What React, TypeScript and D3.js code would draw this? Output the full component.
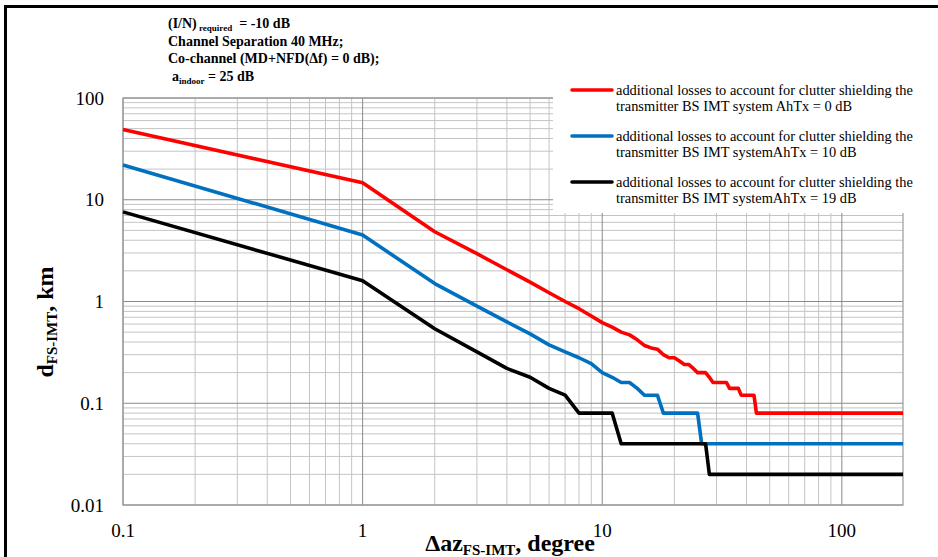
import React from 'react';
import * as d3 from 'd3';

// Azimuth offsets (degrees) at which the curves are sampled
const angles = [
  0.1, 1, 2, 3, 4, 5, 6, 7, 8, 9, 10,
  11, 12, 13, 14, 15, 16, 17, 18, 19, 20,
  21, 22, 23, 24, 25, 26, 27, 28, 29, 30,
  31, 32, 33, 34, 35, 36, 37, 38, 39, 40,
  41, 42, 43, 44, 45, 180,
];

// Separation distance (km), AhTx = 0 dB
const distAh0 = [
  49, 14.7, 4.85, 2.95, 2.05, 1.55, 1.22, 1.0, 0.85, 0.72, 0.62,
  0.56, 0.5, 0.47, 0.42, 0.37, 0.35, 0.34, 0.3, 0.28, 0.28,
  0.26, 0.24, 0.24, 0.22, 0.2, 0.2, 0.2, 0.18, 0.16, 0.16,
  0.16, 0.16, 0.16, 0.14, 0.14, 0.14, 0.14, 0.12, 0.12, 0.12,
  0.12, 0.12, 0.12, 0.08, 0.08, 0.08,
];

// Separation distance (km), AhTx = 10 dB
const distAh10 = [
  22, 4.5, 1.5, 0.9, 0.63, 0.48, 0.375, 0.32, 0.28, 0.245, 0.2,
  0.18, 0.16, 0.16, 0.14, 0.12, 0.12, 0.12, 0.08, 0.08, 0.08,
  0.08, 0.08, 0.08, 0.08, 0.08, 0.04, 0.04, 0.04, 0.04, 0.04,
  0.04, 0.04, 0.04, 0.04, 0.04, 0.04, 0.04, 0.04, 0.04, 0.04,
  0.04, 0.04, 0.04, 0.04, 0.04, 0.04,
];

// Separation distance (km), AhTx = 19 dB
const distAh19 = [
  7.6, 1.6, 0.54, 0.32, 0.22, 0.18, 0.14, 0.12, 0.08, 0.08, 0.08,
  0.08, 0.04, 0.04, 0.04, 0.04, 0.04, 0.04, 0.04, 0.04, 0.04,
  0.04, 0.04, 0.04, 0.04, 0.04, 0.04, 0.04, 0.02, 0.02, 0.02,
  0.02, 0.02, 0.02, 0.02, 0.02, 0.02, 0.02, 0.02, 0.02, 0.02,
  0.02, 0.02, 0.02, 0.02, 0.02, 0.02,
];

const seriesLabels1 = [
  'additional losses to account for clutter shielding the',
  'additional losses to account for clutter shielding the',
  'additional losses to account for clutter shielding the',
];
const seriesLabels2 = [
  'transmitter BS IMT system AhTx = 0 dB',
  'transmitter BS IMT systemAhTx = 10 dB',
  'transmitter BS IMT systemAhTx = 19 dB',
];
const seriesColors = ['#ff0000', '#0070c0', '#000000'];

const xTickValues = [0.1, 1, 10, 100];
const xTickLabels = ['0.1', '1', '10', '100'];
const yTickValues = [0.01, 0.1, 1, 10, 100];
const yTickLabels = ['0.01', '0.1', '1', '10', '100'];

const FONT = '"Liberation Serif", "Times New Roman", serif';

export default function App() {
  const W = 938;
  const H = 557;
  const x = d3.scaleLog().domain([0.1, 180]).range([123, 903]);
  const y = d3.scaleLog().domain([0.01, 100]).range([505, 98]);

  const isMajor = (v: number) => Math.abs(Math.log10(v) - Math.round(Math.log10(v))) < 1e-6;
  const xGrid = x.ticks();
  const yGrid = y.ticks();

  const seriesData = [distAh0, distAh10, distAh19].map((vals) =>
    angles.map((a, i) => ({ a, v: vals[i] }))
  );
  const line = d3
    .line<{ a: number; v: number }>()
    .x((d) => x(d.a))
    .y((d) => y(d.v));

  const [x0, x1] = x.range();
  const [y0, y1] = y.range();

  return (
    <svg
      width={W}
      height={H}
      style={{ position: 'absolute', left: 0, top: 0, background: '#fff' }}
      fontFamily={FONT}
    >
      <rect x={0} y={0} width={W} height={H} fill="#fff" />
      {/* grid */}
      {xGrid.filter((v) => !isMajor(v)).map((v, i) => (
        <line key={'xm' + i} x1={x(v)} x2={x(v)} y1={y1} y2={y0} stroke="#c4c4c4" strokeWidth={1} />
      ))}
      {yGrid.filter((v) => !isMajor(v)).map((v, i) => (
        <line key={'ym' + i} x1={x0} x2={x1} y1={y(v)} y2={y(v)} stroke="#c4c4c4" strokeWidth={1} />
      ))}
      {xGrid.filter((v) => isMajor(v)).map((v, i) => (
        <line key={'xM' + i} x1={x(v)} x2={x(v)} y1={y1} y2={y0} stroke="#8a8a8a" strokeWidth={1} />
      ))}
      {yGrid.filter((v) => isMajor(v)).map((v, i) => (
        <line key={'yM' + i} x1={x0} x2={x1} y1={y(v)} y2={y(v)} stroke="#8a8a8a" strokeWidth={1} />
      ))}
      <rect x={x0} y={y1} width={x1 - x0} height={y0 - y1} fill="none" stroke="#9a9a9a" strokeWidth={1.2} />

      {/* series */}
      {seriesData.map((d, i) => (
        <path
          key={'s' + i}
          d={line(d) || ''}
          fill="none"
          stroke={seriesColors[i]}
          strokeWidth={3.6}
          strokeLinejoin="round"
        />
      ))}

      {/* tick labels */}
      {xTickValues.map((v, i) => (
        <text key={'xt' + i} x={x(v)} y={537} textAnchor="middle" fontSize={19} fill="#000">
          {xTickLabels[i]}
        </text>
      ))}
      {yTickValues.map((v, i) => (
        <text key={'yt' + i} x={104} y={y(v) + 6.5} textAnchor="end" fontSize={19} fill="#000">
          {yTickLabels[i]}
        </text>
      ))}

      {/* legend */}
      <rect x={553} y={72} width={370} height={141} fill="#fff" />
      {seriesColors.map((c, i) => {
        const by = 95 + i * 46;
        return (
          <g key={'lg' + i}>
            <line x1={572} x2={612} y1={by - 5} y2={by - 5} stroke={c} strokeWidth={3.6} strokeLinecap="round" />
            <text x={616} y={by} fontSize={14.4} fill="#000">{seriesLabels1[i]}</text>
            <text x={616} y={by + 15.5} fontSize={14.4} fill="#000">{seriesLabels2[i]}</text>
          </g>
        );
      })}

      {/* annotation */}
      <g fontWeight="bold" fontSize={14} fill="#000">
        <text x={168} y={28}>
          (I/N)<tspan fontSize={9} dy={3}> required</tspan>
          <tspan dy={-3}>{'\u00a0 = -10 dB'}</tspan>
        </text>
        <text x={168} y={45.5}>Channel Separation 40 MHz;</text>
        <text x={168} y={63}>Co-channel (MD+NFD(Δf) = 0 dB);</text>
        <text x={172} y={81}>
          a<tspan fontSize={9} dy={3}>indoor</tspan>
          <tspan dy={-3}> = 25 dB</tspan>
        </text>
      </g>

      {/* axis titles */}
      <text x={510} y={551} textAnchor="middle" fontSize={24} fontWeight="bold" fill="#000">
        Δaz<tspan fontSize={15} dy={4}>FS-IMT</tspan>
        <tspan dy={-4}>, degree</tspan>
      </text>
      <text
        transform="translate(53,322) rotate(-90)"
        textAnchor="middle"
        fontSize={24}
        fontWeight="bold"
        fill="#000"
      >
        d<tspan fontSize={15} dy={4}>FS-IMT</tspan>
        <tspan dy={-4}>, km</tspan>
      </text>

      {/* outer frame */}
      <rect x={5.5} y={6.5} width={1000} height={1000} fill="none" stroke="#000" strokeWidth={3} />
    </svg>
  );
}
